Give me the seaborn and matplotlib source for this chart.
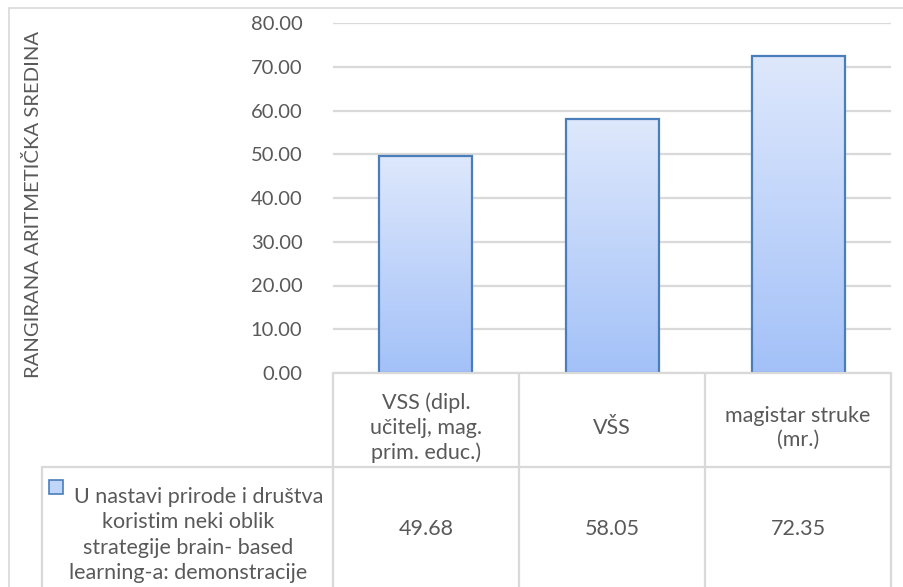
import numpy as np
import matplotlib
matplotlib.use("Agg")
import matplotlib.pyplot as plt
import seaborn as sns
from matplotlib.colors import LinearSegmentedColormap
from matplotlib.patches import Rectangle

# data
categories = ["VSS (dipl.\nučitelj, mag.\nprim. educ.)", "VŠS", "magistar struke\n(mr.)"]
values = [49.68, 58.05, 72.35]
series_name = "U nastavi prirode i društva\nkoristim neki oblik\nstrategije brain- based\nlearning-a: demonstracije"
y_label = "RANGIRANA ARITMETIČKA SREDINA"
y_ticks = [0, 10, 20, 30, 40, 50, 60, 70, 80]

sns.set_theme(style="white")
plt.rcParams["font.family"] = ["Lato", "DejaVu Sans"]

W, H = 904, 587
txt = "#595959"
grid = "#d9d9d9"
edge = "#4a7ebb"
grad = LinearSegmentedColormap.from_list("g", ["#a3c1f8", "#dee8fc"])
fs = 15.5

def fx(px):
    return px / W

def fy(py):
    return 1 - py / H

fig = plt.figure(figsize=(W / 100, H / 100), dpi=100)
fig.patch.set_facecolor("white")

# plot area
left, right, top, bottom = 333, 891, 23, 373
ax = fig.add_axes([fx(left), fy(bottom), fx(right - left), fy(top) - fy(bottom)])
sns.barplot(x=list(range(len(values))), y=values, ax=ax, width=0.5,
            color="#c0d5fa", edgecolor=edge, linewidth=1.6, zorder=3)
ax.set_xlim(-0.5, len(values) - 0.5)
ax.set_ylim(0, 80)
ax.set_yticks(y_ticks)
ax.set_yticklabels([f"{t:.2f}" for t in y_ticks], color=txt, fontsize=14.5)
ax.tick_params(axis="y", length=0, pad=22)
ax.set_xticks([])
ax.set_xlabel("")
ax.set_ylabel("")
for s in ax.spines.values():
    s.set_visible(False)
for t in y_ticks:
    ax.axhline(t, color=grid, lw=1.6, zorder=1)

# gradient fill
gimg = np.linspace(0, 1, 256).reshape(-1, 1)
for p in list(ax.patches):
    x0, y0 = p.get_x(), p.get_y()
    w, h = p.get_width(), p.get_height()
    im = ax.imshow(gimg, cmap=grad, extent=[x0, x0 + w, y0, y0 + h],
                   origin="lower", aspect="auto", zorder=2.5)
    im.set_clip_path(p)
    p.set_facecolor("none")
ax.set_xlim(-0.5, len(values) - 0.5)
ax.set_ylim(0, 80)

# y label
fig.text(fx(33), fy(204), y_label, rotation=90, ha="center", va="center",
         color=txt, fontsize=14.6)

# outer chart border
fig.add_artist(plt.Line2D([fx(9), fx(9)], [fy(8), 0], color=grid, lw=1.2))
fig.add_artist(plt.Line2D([fx(9), 1], [fy(8), fy(8)], color=grid, lw=1.2))

# data table
col_w = (right - left) / len(values)
row1, row2 = 467, 600
tl = dict(color=grid, lw=1.6)
fig.add_artist(plt.Line2D([fx(left), fx(right)], [fy(bottom), fy(bottom)], **tl))
fig.add_artist(plt.Line2D([fx(42), fx(right)], [fy(row1), fy(row1)], **tl))
fig.add_artist(plt.Line2D([fx(42), fx(42)], [fy(row1), fy(row2)], **tl))
for i in range(len(values) + 1):
    xx = left + i * col_w
    fig.add_artist(plt.Line2D([fx(xx), fx(xx)], [fy(bottom), fy(row2)], **tl))
for i, (c, v) in enumerate(zip(categories, values)):
    cx = left + (i + 0.5) * col_w
    fig.text(fx(cx), fy(428), c, ha="center", va="center", color=txt,
             fontsize=fs, linespacing=1.28, multialignment="center")
    fig.text(fx(cx), fy(529), f"{v:.2f}", ha="center", va="center",
             color=txt, fontsize=fs)

# legend key + series name
lines = series_name.split("\n")
lines[0] = "    " + lines[0]
fig.text(fx(188), fy(535), "\n".join(lines), ha="center", va="center",
         color=txt, fontsize=fs, linespacing=1.33, multialignment="center")
key = Rectangle((fx(49), fy(494)), fx(14), fy(480) - fy(494), transform=fig.transFigure,
                facecolor="#c0d5fa", edgecolor=edge, lw=1.2)
fig.add_artist(key)

fig.savefig("out.png", dpi=100)
